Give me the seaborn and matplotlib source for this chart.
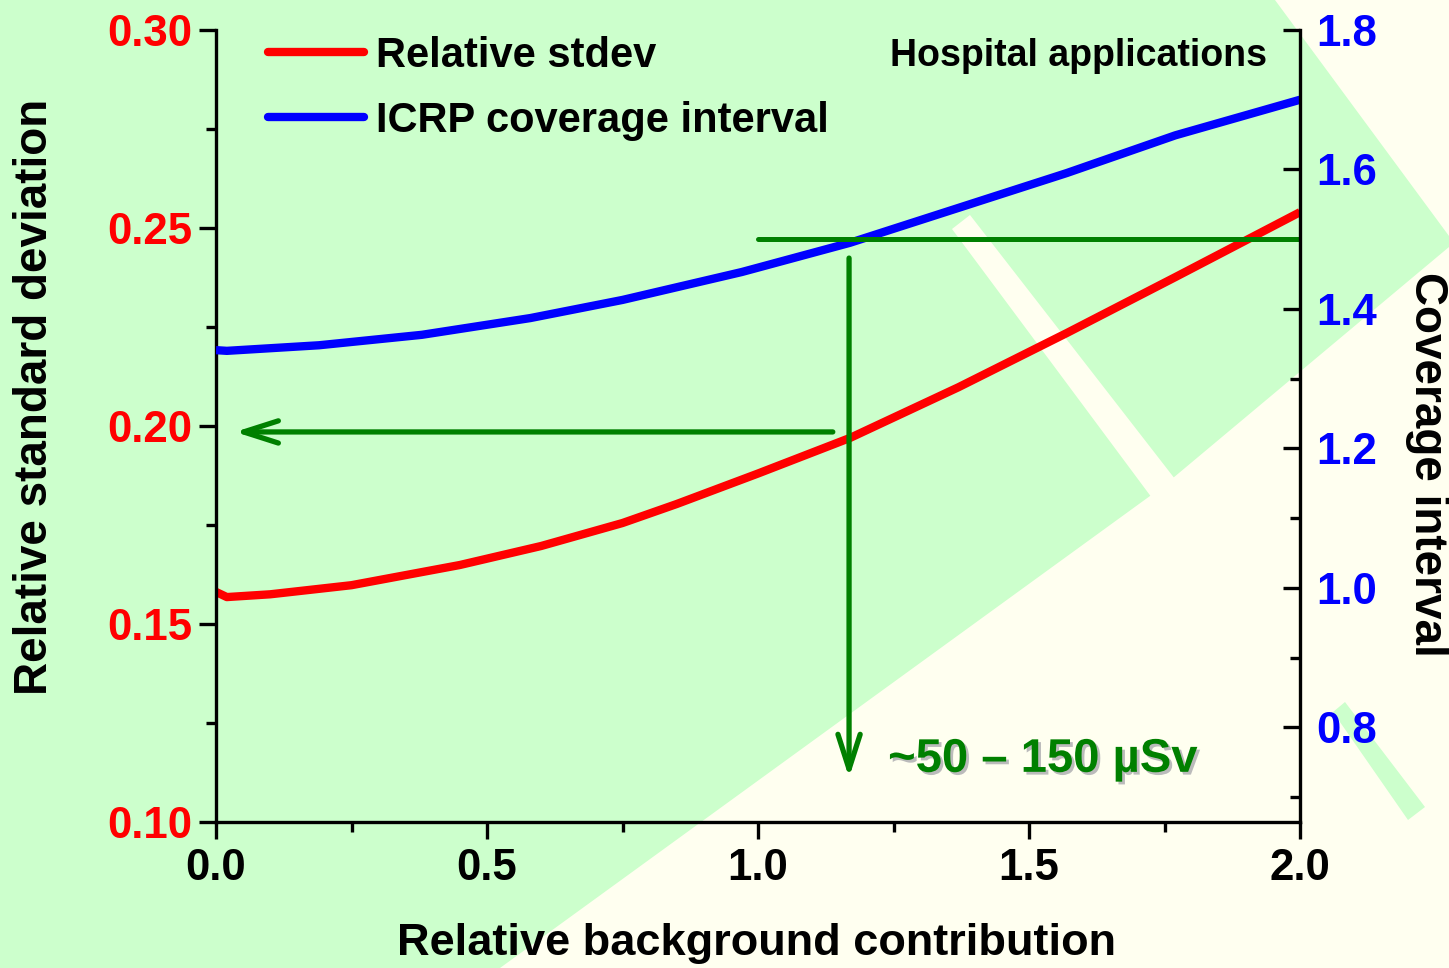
import matplotlib
matplotlib.use("Agg")
import matplotlib.pyplot as plt
import matplotlib.patheffects as pe
from matplotlib.patches import Polygon
from matplotlib.lines import Line2D
from matplotlib.ticker import MultipleLocator
import seaborn as sns
import numpy as np

# ---------------- data ----------------
sd_x = [0.0, 0.02, 0.1, 0.25, 0.45, 0.6, 0.75, 0.85, 1.0, 1.17, 1.37, 1.57, 1.77, 2.0]
sd_y = [0.1581, 0.1568, 0.1575, 0.1598, 0.1649, 0.1697, 0.1755, 0.1803, 0.1880,
        0.1970, 0.2098, 0.2235, 0.2376, 0.2540]

ci_x = [0.0, 0.02, 0.19, 0.38, 0.58, 0.75, 0.97, 1.17, 1.37, 1.57, 1.77, 2.0]
ci_y = [1.341, 1.340, 1.348, 1.363, 1.387, 1.413, 1.453, 1.495, 1.545, 1.595, 1.649, 1.700]

series_labels = ["Relative stdev", "ICRP coverage interval"]
x_ticks = [0.0, 0.5, 1.0, 1.5, 2.0]
left_ticks = [0.10, 0.15, 0.20, 0.25, 0.30]
right_ticks = [0.8, 1.0, 1.2, 1.4, 1.6, 1.8]

# guide lines
ci_level = 1.5          # horizontal guide on coverage axis
ci_level_x = [1.0, 2.0]
read_x = 1.168          # vertical arrow position
read_ci = [1.473, 0.728]
sd_read = 0.1985        # horizontal arrow on stdev axis
sd_read_x = [1.138, 0.035]

annot_text = "~50 \u2013 150 \u00b5Sv"
corner_text = "Hospital applications"

# ---------------- style ----------------
sns.set_style("ticks")
plt.rcParams["font.family"] = ["Liberation Sans", "DejaVu Sans"]
plt.rcParams["font.weight"] = "bold"
plt.rcParams["axes.labelweight"] = "bold"
plt.rcParams["text.color"] = "black"
plt.rcParams["axes.labelcolor"] = "black"
plt.rcParams["xtick.color"] = "black"
plt.rcParams["ytick.color"] = "black"

IVORY = "#FFFFF0"
LGREEN = "#CCFFCC"
DGREEN = "#008000"

W, H = 1449, 968
fig = plt.figure(figsize=(W / 100, H / 100), dpi=100, facecolor=IVORY)

def fpoly(pts, color):
    p = Polygon([(x / W, 1 - y / H) for x, y in pts], closed=True,
                transform=fig.transFigure, facecolor=color, edgecolor="none", zorder=-10)
    fig.patches.append(p)

# decorative background
fpoly([(0, 0), (1275, 0), (1449, 236), (1449, 247), (1173, 478), (1150, 496),
       (500, 968), (0, 968)], LGREEN)
fpoly([(952, 229), (970, 215), (1175, 479), (1152, 498)], IVORY)
fpoly([(1333, 712), (1345, 702), (1425, 807), (1408, 820)], LGREEN)

ax = fig.add_axes([216 / W, 1 - 822 / H, (1300 - 216) / W, 792 / H])
ax.set_facecolor("none")
ax2 = ax.twinx()
ax2.set_facecolor("none")

sns.lineplot(x=sd_x, y=sd_y, ax=ax, color="#FF0000", lw=6, legend=False,
             sort=False, solid_capstyle="butt")
sns.lineplot(x=ci_x, y=ci_y, ax=ax2, color="#0000FF", lw=6, legend=False,
             sort=False, solid_capstyle="butt")

ax.set_xlim(0, 2)
ax.set_ylim(0.10, 0.30)
ax2.set_ylim(0.6645, 1.8)

# guides
ax2.plot(ci_level_x, [ci_level, ci_level], color=DGREEN, lw=3.6, solid_capstyle="round")
ax2.annotate("", xy=(read_x, read_ci[1]), xytext=(read_x, read_ci[0]),
             arrowprops=dict(arrowstyle="->,head_length=1.25,head_width=0.4",
                             color=DGREEN, lw=3.8, shrinkA=0, shrinkB=0,
                             mutation_scale=20, capstyle="round"))
ax.annotate("", xy=(sd_read_x[1], sd_read), xytext=(sd_read_x[0], sd_read),
            arrowprops=dict(arrowstyle="->,head_length=1.25,head_width=0.4",
                            color=DGREEN, lw=3.8, shrinkA=0, shrinkB=0,
                            mutation_scale=20, capstyle="round"))

# ticks
ax.set_xticks(x_ticks)
ax.set_xticklabels([f"{v:.1f}" for v in x_ticks])
ax.xaxis.set_minor_locator(MultipleLocator(0.25))
ax.set_yticks(left_ticks)
ax.set_yticklabels([f"{v:.2f}" for v in left_ticks])
ax.yaxis.set_minor_locator(MultipleLocator(0.025))
ax2.set_yticks(right_ticks)
ax2.set_yticklabels([f"{v:.1f}" for v in right_ticks])
ax2.yaxis.set_minor_locator(MultipleLocator(0.1))

for s in ["top", "right"]:
    ax.spines[s].set_visible(False)
for s in ["top", "left", "bottom"]:
    ax2.spines[s].set_visible(False)
for a in (ax, ax2):
    for s in a.spines.values():
        s.set_linewidth(2.4)
        s.set_color("black")

ax.tick_params(axis="x", which="major", direction="out", length=12, width=2.4,
               labelsize=31.5, pad=7, colors="black")
ax.tick_params(axis="x", which="minor", direction="out", length=7, width=2.4)
ax.tick_params(axis="y", which="major", direction="out", length=12, width=2.4,
               labelsize=31.5, pad=5, labelcolor="#FF0000", color="black")
ax.tick_params(axis="y", which="minor", direction="out", length=7, width=2.4)
ax2.tick_params(axis="y", which="major", direction="in", length=12, width=2.4,
                labelsize=31.5, pad=12, labelcolor="#0000FF", color="black")
ax2.tick_params(axis="y", which="minor", direction="in", length=7, width=2.4)
for lab in ax.get_xticklabels() + ax.get_yticklabels() + ax2.get_yticklabels():
    lab.set_fontweight("bold")

# axis labels
ax.set_xlabel("Relative background contribution", fontsize=32.5, fontweight="bold",
              va="center", color="black")
ax.xaxis.set_label_coords(0.499, -0.153)
ax.set_ylabel("Relative standard deviation", fontsize=33, fontweight="bold", va="center",
              color="black")
ax.yaxis.set_label_coords(-0.167, 0.537)
ax2.set_ylabel("Coverage interval", fontsize=33, fontweight="bold", rotation=-90,
               va="center", color="black")
ax2.yaxis.set_label_coords(1.117, 0.452)

# legend
handles = [Line2D([], [], color="#FF0000", lw=6, solid_capstyle="round"),
           Line2D([], [], color="#0000FF", lw=6, solid_capstyle="round")]
leg = ax.legend(handles, series_labels, loc="upper left", bbox_to_anchor=(0.048, 0.993),
                frameon=False, handlelength=2.3, handletextpad=0.3,
                labelspacing=0.6, borderpad=0, borderaxespad=0,
                prop={"weight": "bold", "size": 30})
for t in leg.get_texts():
    t.set_color("black")

# texts
ax.text(1.939, 0.2935, corner_text, ha="right", va="center", fontsize=27,
        fontweight="bold", color="black")
ax.text(1.240, 0.1157, annot_text, ha="left", va="center", fontsize=34,
        fontweight="bold", color=DGREEN,
        path_effects=[pe.SimplePatchShadow(offset=(2, -2), shadow_rgbFace="#BBBBBB", alpha=1),
                      pe.Normal()])

fig.savefig("out.png", dpi=100, facecolor=IVORY)
